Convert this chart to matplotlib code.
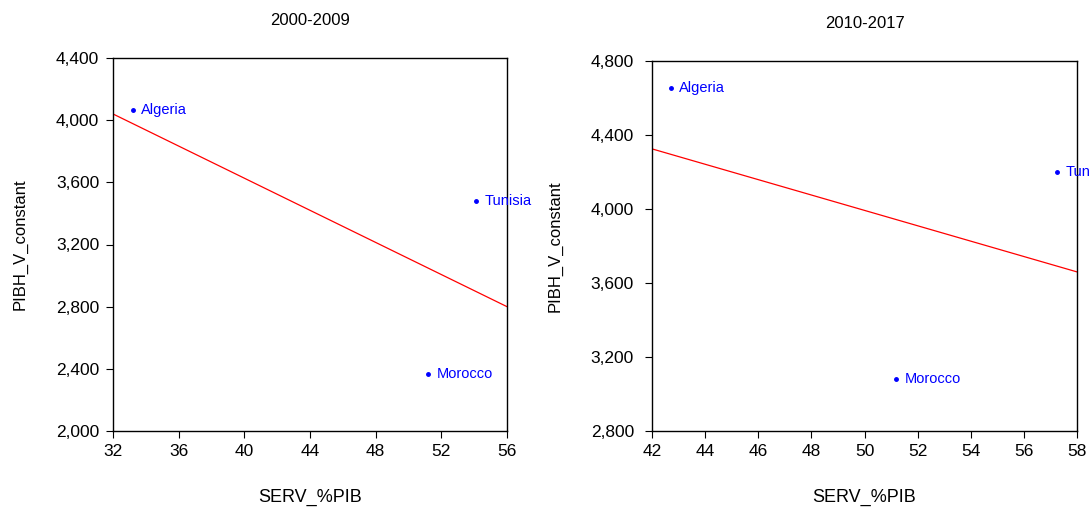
import matplotlib.pyplot as plt
from matplotlib.ticker import FuncFormatter

# panel 1: 2000-2009
countries = ['Algeria', 'Tunisia', 'Morocco']
serv_0009 = [33.2, 54.1, 51.2]
pibh_0009 = [4066, 3480, 2367]
fit_x_0009 = [32, 56]
fit_y_0009 = [4040, 2800]

# panel 2: 2010-2017
serv_1017 = [42.7, 57.25, 51.2]
pibh_1017 = [4654, 4200, 3081]
fit_x_1017 = [42, 58]
fit_y_1017 = [4325, 3660]

plt.rcParams['font.family'] = ['Liberation Sans', 'DejaVu Sans']

fig = plt.figure(figsize=(10.9, 5.07), dpi=100)
ax1 = fig.add_axes([113 / 1090, 1 - 431 / 507, 394 / 1090, 373 / 507])
ax2 = fig.add_axes([652 / 1090, 1 - 431 / 507, 425 / 1090, 370 / 507])

thousands = FuncFormatter(lambda v, p: f'{v:,.0f}')


def scatter_panel(ax, xs, ys, fx, fy, title, xlim, ylim, xticks, yticks, ypad):
    ax.plot(fx, fy, color='red', lw=0.9)
    ax.plot(xs, ys, 'o', color='blue', ms=2.5, clip_on=False)
    for x, y, name in zip(xs, ys, countries):
        ax.annotate(name, (x, y), xytext=(6, 0), textcoords='offset points',
                    va='center', ha='left', color='blue', fontsize=10.5,
                    annotation_clip=False)
    ax.set_xlim(*xlim)
    ax.set_ylim(*ylim)
    ax.set_xticks(xticks)
    ax.set_yticks(yticks)
    ax.yaxis.set_major_formatter(thousands)
    ax.tick_params(direction='out', length=5, width=0.8, labelsize=12.5,
                   top=False, right=False)
    ax.tick_params(axis='x', pad=4)
    ax.tick_params(axis='y', pad=ypad)
    for s in ax.spines.values():
        s.set_linewidth(1.0)
    ax.set_title(title, fontsize=12, pad=24)
    ax.set_xlabel('SERV_%PIB', fontsize=13, labelpad=22)
    ax.set_ylabel('PIBH_V_constant', fontsize=12, labelpad=20)


scatter_panel(ax1, serv_0009, pibh_0009, fit_x_0009, fit_y_0009, '2000-2009',
              (32, 56), (2000, 4400), range(32, 57, 4), range(2000, 4401, 400), 5)
scatter_panel(ax2, serv_1017, pibh_1017, fit_x_1017, fit_y_1017, '2010-2017',
              (42, 58), (2800, 4800), range(42, 59, 2), range(2800, 4801, 400), 8)

fig.savefig('out.png', dpi=100)
